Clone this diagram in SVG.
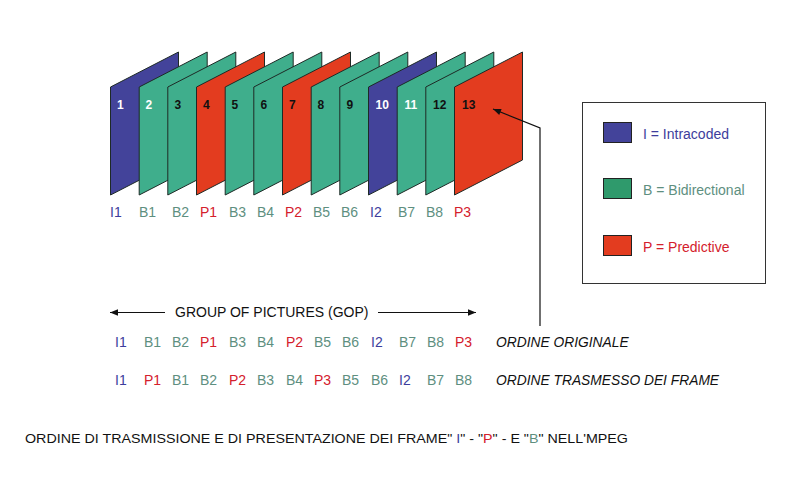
<svg xmlns="http://www.w3.org/2000/svg" width="800" height="483" viewBox="0 0 800 483">
<defs>
<style>
.fr{stroke:#1e2a26;stroke-width:1}
.I{fill:#43439a}.B{fill:#3fae8c}.P{fill:#e33c1f}
.num{font-family:"Liberation Sans",Arial,sans-serif;font-size:12px;font-weight:bold}
.lb{font-family:"Liberation Sans",Arial,sans-serif;font-size:14px}
.ti{fill:#3d3d9c}.tb{fill:#5e8f7f}.tp{fill:#d4202c}
.it{font-family:"Liberation Sans",Arial,sans-serif;font-size:13.8px;font-style:italic;fill:#111}
.ln{stroke:#111;stroke-width:1.2;fill:none}
</style>
<marker id="ah" viewBox="0 0 10 10" refX="10" refY="5" markerWidth="10" markerHeight="8" markerUnits="userSpaceOnUse" orient="auto-start-reverse"><path d="M0,1 L10,5 L0,9 z" fill="#111"/></marker>
<marker id="ah2" viewBox="0 0 10 10" refX="10" refY="5" markerWidth="10" markerHeight="8" markerUnits="userSpaceOnUse" orient="auto-start-reverse"><path d="M0,1 L10,5 L0,9 z" fill="#111"/></marker>
</defs>
<rect width="800" height="483" fill="#fff"/>
<g id="frames">
<g id="f1"><path class="fr I" d="M110.5,87 L178.5,52 L178.5,160 L110.5,195 Z"/><text class="num" x="117" y="109" fill="#fff">1</text></g>
<g id="f2"><path class="fr B" d="M139.2,87 L207.2,52 L207.2,160 L139.2,195 Z"/><text class="num" x="145.5" y="109" fill="#fff">2</text></g>
<g id="f3"><path class="fr B" d="M167.8,87 L235.8,52 L235.8,160 L167.8,195 Z"/><text class="num" x="174.5" y="109" fill="#111">3</text></g>
<g id="f4"><path class="fr P" d="M196.5,87 L264.5,52 L264.5,160 L196.5,195 Z"/><text class="num" x="203" y="109" fill="#111">4</text></g>
<g id="f5"><path class="fr B" d="M225.2,87 L293.2,52 L293.2,160 L225.2,195 Z"/><text class="num" x="231.5" y="109" fill="#111">5</text></g>
<g id="f6"><path class="fr B" d="M253.8,87 L321.8,52 L321.8,160 L253.8,195 Z"/><text class="num" x="260.5" y="109" fill="#111">6</text></g>
<g id="f7"><path class="fr P" d="M282.5,87 L350.5,52 L350.5,160 L282.5,195 Z"/><text class="num" x="289" y="109" fill="#111">7</text></g>
<g id="f8"><path class="fr B" d="M311.2,87 L379.2,52 L379.2,160 L311.2,195 Z"/><text class="num" x="317.5" y="109" fill="#111">8</text></g>
<g id="f9"><path class="fr B" d="M339.8,87 L407.8,52 L407.8,160 L339.8,195 Z"/><text class="num" x="346.5" y="109" fill="#111">9</text></g>
<g id="f10"><path class="fr I" d="M368.5,87 L436.5,52 L436.5,160 L368.5,195 Z"/><text class="num" x="375.5" y="109" fill="#fff">10</text></g>
<g id="f11"><path class="fr B" d="M397.2,87 L465.2,52 L465.2,160 L397.2,195 Z"/><text class="num" x="404.5" y="109" fill="#fff">11</text></g>
<g id="f12"><path class="fr B" d="M425.8,87 L493.8,52 L493.8,160 L425.8,195 Z"/><text class="num" x="433" y="109" fill="#111">12</text></g>
<g id="f13"><path class="fr P" d="M454.5,87 L522.5,52 L522.5,160 L454.5,195 Z"/><text class="num" x="462" y="109" fill="#111">13</text></g>
</g>
<g id="frame-labels" class="lb">
<text x="110" y="217" class="ti">I1</text>
<text x="139" y="217" class="tb">B1</text>
<text x="172" y="217" class="tb">B2</text>
<text x="200" y="217" class="tp">P1</text>
<text x="229" y="217" class="tb">B3</text>
<text x="257" y="217" class="tb">B4</text>
<text x="285" y="217" class="tp">P2</text>
<text x="313" y="217" class="tb">B5</text>
<text x="341" y="217" class="tb">B6</text>
<text x="370" y="217" class="ti">I2</text>
<text x="398" y="217" class="tb">B7</text>
<text x="426" y="217" class="tb">B8</text>
<text x="454" y="217" class="tp">P3</text>
</g>
<g id="legend">
<rect x="582.5" y="102.5" width="183" height="181" fill="#fff" stroke="#333" stroke-width="1"/>
<g id="leg-i"><rect x="603.5" y="122.5" width="28" height="20" class="I" stroke="#222"/><text x="643" y="139" class="lb ti">I = Intracoded</text></g>
<g id="leg-b"><rect x="603.5" y="178.5" width="28" height="20" fill="#2f9a6c" stroke="#222"/><text x="643" y="195" class="lb tb">B = Bidirectional</text></g>
<g id="leg-p"><rect x="603.5" y="235.5" width="28" height="20" class="P" stroke="#222"/><text x="643" y="252" class="lb tp">P = Predictive</text></g>
</g>
<g id="connectors">
<path class="ln" d="M165,312.5 L110,312.5" marker-end="url(#ah)"/>
<path class="ln" d="M378,312.5 L476,312.5" marker-end="url(#ah)"/>
<path class="ln" d="M540,326 L540,128 L493,109" marker-end="url(#ah2)"/>
</g>
<g id="gop-label"><text x="175" y="317" font-family="'Liberation Sans',Arial,sans-serif" font-size="14" fill="#111">GROUP OF PICTURES (GOP)</text></g>
<g id="row-original" class="lb">
<text x="115" y="347" class="ti">I1</text>
<text x="144" y="347" class="tb">B1</text>
<text x="172" y="347" class="tb">B2</text>
<text x="200" y="347" class="tp">P1</text>
<text x="229" y="347" class="tb">B3</text>
<text x="257" y="347" class="tb">B4</text>
<text x="286" y="347" class="tp">P2</text>
<text x="314" y="347" class="tb">B5</text>
<text x="342" y="347" class="tb">B6</text>
<text x="371" y="347" class="ti">I2</text>
<text x="399" y="347" class="tb">B7</text>
<text x="427" y="347" class="tb">B8</text>
<text x="455" y="347" class="tp">P3</text>
<text x="496" y="347" class="it">ORDINE ORIGINALE</text>
</g>
<g id="row-transmitted" class="lb">
<text x="115" y="385" class="ti">I1</text>
<text x="144" y="385" class="tp">P1</text>
<text x="172" y="385" class="tb">B1</text>
<text x="200" y="385" class="tb">B2</text>
<text x="229" y="385" class="tp">P2</text>
<text x="257" y="385" class="tb">B3</text>
<text x="286" y="385" class="tb">B4</text>
<text x="314" y="385" class="tp">P3</text>
<text x="342" y="385" class="tb">B5</text>
<text x="371" y="385" class="tb">B6</text>
<text x="399" y="385" class="ti">I2</text>
<text x="427" y="385" class="tb">B7</text>
<text x="455" y="385" class="tb">B8</text>
<text x="496" y="385" class="it">ORDINE TRASMESSO DEI FRAME</text>
</g>
<g id="caption"><text x="25" y="443" font-family="'Liberation Sans',Arial,sans-serif" font-size="13" fill="#111" textLength="603" lengthAdjust="spacingAndGlyphs">ORDINE DI TRASMISSIONE E DI PRESENTAZIONE DEI FRAME" <tspan class="ti">I</tspan>" -  "<tspan class="tp">P</tspan>" -  E "<tspan class="tb">B</tspan>" NELL'MPEG</text></g>
</svg>
